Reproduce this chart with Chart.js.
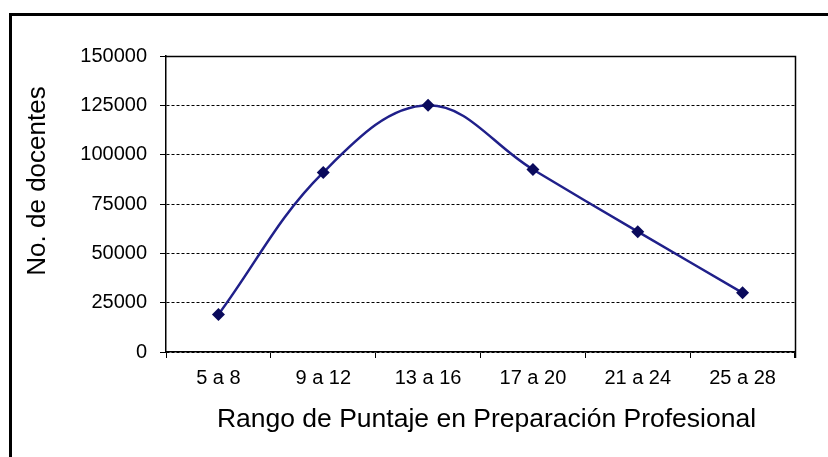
<!DOCTYPE html>
<html>
<head>
<meta charset="utf-8">
<script src="https://cdn.jsdelivr.net/npm/chart.js@4/dist/chart.umd.min.js"></script>
<style>
  html, body { margin: 0; padding: 0; background: #fff; }
  #wrap { position: relative; width: 828px; height: 457px; overflow: hidden; }
  #frame { position: absolute; left: 9px; top: 13px; right: -10px; bottom: -10px;
           border-top: 3px solid #000; border-left: 3px solid #000; pointer-events: none; }
</style>
</head>
<body>
<div id="wrap">
  <canvas id="c" width="828" height="457"></canvas>
  <div id="frame"></div>
</div>
<script>
const categories = ["5 a 8", "9 a 12", "13 a 16", "17 a 20", "21 a 24", "25 a 28"];
const docentes = [19000, 91000, 125000, 92500, 61000, 30000];
const yTicks = [0, 25000, 50000, 75000, 100000, 125000, 150000];
const xTitle = "Rango de Puntaje en Preparación Profesional";
const yTitle = "No. de docentes";

const FONT = "'Liberation Sans', Arial, sans-serif";

const framePlugin = {
  id: 'framePlugin',
  afterDraw(chart) {
    const ctx = chart.ctx, a = chart.chartArea;
    ctx.save();
    ctx.strokeStyle = '#000';
    ctx.lineWidth = 1.5;
    ctx.beginPath();
    ctx.moveTo(a.left, a.top + 0.5);
    ctx.lineTo(a.right + 0.5, a.top + 0.5);
    ctx.lineTo(a.right + 0.5, a.bottom + 6);
    ctx.stroke();
    // axis titles
    ctx.fillStyle = '#000';
    ctx.font = "26.5px " + FONT;
    ctx.textAlign = 'center';
    ctx.textBaseline = 'middle';
    ctx.fillText(xTitle, (a.left + a.right) / 2 + 6, 420);
    ctx.translate(38, 181);
    ctx.rotate(-Math.PI / 2);
    ctx.font = "26px " + FONT;
    ctx.fillText(yTitle, 0, 0);
    ctx.restore();
  }
};

new Chart(document.getElementById('c'), {
  type: 'line',
  data: {
    labels: categories,
    datasets: [{
      data: docentes,
      borderColor: '#20208a',
      backgroundColor: '#0a0a5c',
      borderWidth: 2.5,
      tension: 0.38,
      pointStyle: 'rectRot',
      pointRadius: 6.5,
      pointBorderWidth: 0,
      pointBackgroundColor: '#0a0a5c',
      fill: false
    }]
  },
  options: {
    responsive: false,
    animation: false,
    devicePixelRatio: 1,
    layout: { padding: { top: 56, right: 33, left: 0, bottom: 0 } },
    plugins: { legend: { display: false }, tooltip: { enabled: false } },
    scales: {
      x: {
        offset: true,
        grid: { offset: true, drawOnChartArea: false, drawTicks: true, tickLength: 6, color: '#000', tickColor: '#000' },
        border: { display: true, color: '#000', width: 1.5 },
        ticks: { color: '#000', font: { family: FONT, size: 20 }, padding: 8, maxRotation: 0, autoSkip: false },
        afterFit(scale) { scale.height = 105; }
      },
      y: {
        min: yTicks[0],
        max: yTicks[yTicks.length - 1],
        afterBuildTicks(scale) { scale.ticks = yTicks.map(v => ({ value: v })); },
        grid: { color: '#000', tickColor: '#000', tickLength: 6, lineWidth: 1 },
        border: { display: true, color: '#000', width: 1.5, dash: [3, 2] },
        ticks: { color: '#000', font: { family: FONT, size: 20 }, padding: 13,
                 callback: v => String(v) },
        afterFit(scale) { scale.width = 166; }
      }
    }
  },
  plugins: [framePlugin]
});
</script>
</body>
</html>
